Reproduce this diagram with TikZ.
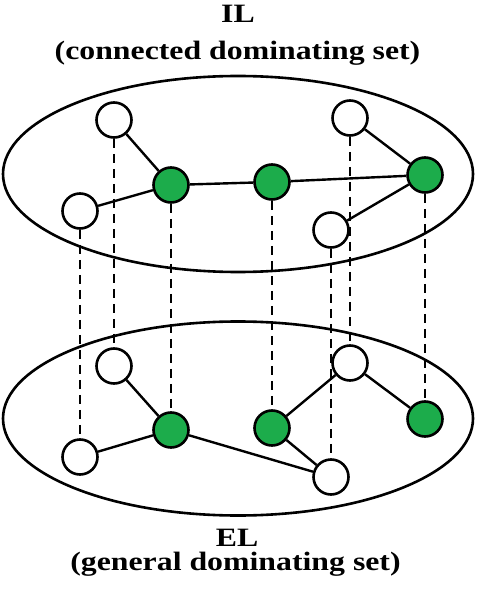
\documentclass[tikz,border=0pt]{standalone}
\usepackage{fontspec}
\setmainfont{Liberation Serif}
\definecolor{nodegreen}{RGB}{28,172,75}
\begin{document}
\begin{tikzpicture}[x=1pt,y=-1pt,
  layer/.style={draw,line width=2.6pt},
  wnode/.style={circle,draw,line width=2.6pt,fill=white,minimum size=35pt,inner sep=0pt},
  gnode/.style={circle,draw,line width=2.6pt,fill=nodegreen,minimum size=35pt,inner sep=0pt},
  edge/.style={line width=2.4pt},
  vlink/.style={line width=2.4pt,dash pattern=on 9pt off 6pt},
  title/.style={anchor=base,inner sep=0pt,font=\fontsize{26.5}{30}\selectfont\bfseries}]
\useasboundingbox (0,0) rectangle (477,593);
\draw[layer] (238,174) ellipse [x radius=235, y radius=98];
\draw[layer] (238,418.5) ellipse [x radius=235, y radius=97];
% top layer
\node[wnode] (t1) at (114,120) {};
\node[wnode] (t2) at (80,211) {};
\node[gnode] (g1) at (171,185) {};
\node[gnode] (g2) at (272,182) {};
\node[gnode] (g3) at (425,175) {};
\node[wnode] (t3) at (350,118) {};
\node[wnode] (t4) at (331,230) {};
% bottom layer
\node[wnode] (b1) at (114,366) {};
\node[wnode] (b2) at (80,457) {};
\node[gnode] (bg1) at (171,430) {};
\node[gnode] (bg2) at (272,428) {};
\node[wnode] (b3) at (350,363) {};
\node[gnode] (bg3) at (425,419) {};
\node[wnode] (b4) at (331,477) {};
% edges
\draw[edge] (t1) -- (g1);
\draw[edge] (t2) -- (g1);
\draw[edge] (g1) -- (g2);
\draw[edge] (g2) -- (g3);
\draw[edge] (t3) -- (g3);
\draw[edge] (t4) -- (g3);
\draw[edge] (b1) -- (bg1);
\draw[edge] (b2) -- (bg1);
\draw[edge] (bg1) -- (b4);
\draw[edge] (bg2) -- (b3);
\draw[edge] (bg2) -- (b4);
\draw[edge] (b3) -- (bg3);
% vertical links
\draw[vlink] (t1) -- (b1);
\draw[vlink] (t2) -- (b2);
\draw[vlink] (g1) -- (bg1);
\draw[vlink] (g2) -- (bg2);
\draw[vlink] (t3) -- (b3);
\draw[vlink] (t4) -- (b4);
\draw[vlink] (g3) -- (bg3);
% labels
\node[title] (il) at (238,23) {\scalebox{1.2}[1]{IL}};
\node[title] (ilsub) at (237.5,60) {\scalebox{1.2}[1]{(connected dominating set)}};
\node[title] (el) at (237,546) {\scalebox{1.2}[1]{EL}};
\node[title] (elsub) at (235.5,570) {\scalebox{1.2}[1]{(general dominating set)}};
\end{tikzpicture}
\end{document}
